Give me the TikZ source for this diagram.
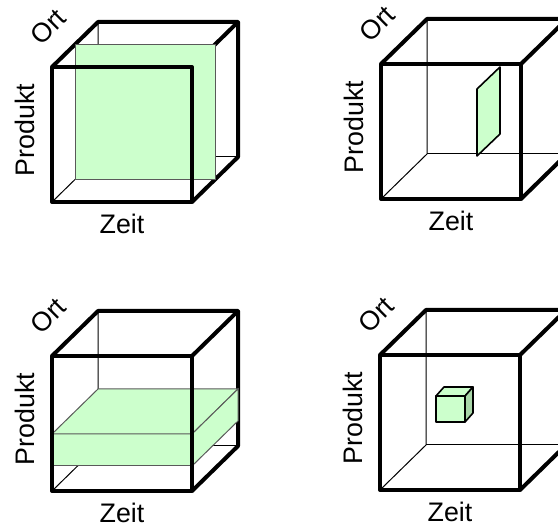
\documentclass[tikz,border=0pt]{standalone}
\usepackage{fontspec}
\setmainfont{Liberation Sans}
\definecolor{hellgruen}{HTML}{CCFFCC}
\definecolor{dunkelgruen}{HTML}{A8D6A8}
\begin{document}
\begin{tikzpicture}[
  x=0.5pt, y=-0.5pt,
  font=\fontsize{13.4}{16}\selectfont,
  kante/.style={draw=black, line width=2pt, line join=round},
  verdeckt/.style={draw=black, line width=0.5pt},
  schnitt/.style={fill=hellgruen, draw=black!65, line width=0.5pt},
  wuerfelchen/.style={fill=hellgruen, draw=black, line width=0.8pt, line join=round},
  achse/.style={inner sep=0pt}
]
\useasboundingbox (0,0) rectangle (558,528);
\clip (0,0) rectangle (558,528);

%--------------------------------------------------------------
% Hintere Kanten der vier Wuerfel und Achsenbeschriftung
%--------------------------------------------------------------
\foreach \nr/\px/\py in {1/52/67, 2/381/64, 3/52/356, 4/380/355} {
  \begin{scope}[shift={(\px,\py)}]
    \draw[verdeckt] (0,135) -- (46,90) -- (46,-45);
    \draw[verdeckt] (46,90) -- (186,90);
    \draw[kante] (0,0) -- (46,-45) -- (186,-45) -- (140,0);
    \draw[kante] (186,-45) -- (186,90) -- (140,135);
    \node[achse, rotate=45] (ort\nr)     at (-4,-40) {Ort};
    \node[achse, rotate=90] (produkt\nr) at (-27,63) {Produkt};
    \node[achse]            (zeit\nr)    at (70,157) {Zeit};
  \end{scope}
}

%--------------------------------------------------------------
% Ausschnitte (gruen)
%--------------------------------------------------------------
% Scheibe: ein Ort, alle Produkte und Zeiten
\begin{scope}[shift={(52,67)}]
  \filldraw[schnitt] (23,-22.5) rectangle (163,112.5);
\end{scope}

% Streifen: ein Ort, eine Zeit
\begin{scope}[shift={(381,64)}]
  \filldraw[wuerfelchen] (96,25) -- (119,3) -- (119,70) -- (96,92) -- cycle;
\end{scope}

% Schicht: ausgewaehlte Produkte
\begin{scope}[shift={(52,356)}]
  \filldraw[schnitt] (0,78) rectangle (140,110);
  \filldraw[schnitt] (0,78) -- (46,33) -- (186,33) -- (140,78) -- cycle;
  \filldraw[schnitt] (140,78) -- (186,33) -- (186,65) -- (140,110) -- cycle;
\end{scope}

% Einzelne Zelle
\begin{scope}[shift={(380,355)}]
  \filldraw[wuerfelchen] (56,41) rectangle (85,67);
  \filldraw[wuerfelchen] (56,41) -- (64,32) -- (93,32) -- (85,41) -- cycle;
  \filldraw[wuerfelchen, fill=dunkelgruen] (85,41) -- (93,32) -- (93,58) -- (85,67) -- cycle;
\end{scope}

%--------------------------------------------------------------
% Vorderseiten
%--------------------------------------------------------------
\foreach \px/\py in {52/67, 381/64, 52/356, 380/355}
  \draw[kante] (\px,\py) rectangle ++(140,135);

\end{tikzpicture}
\end{document}
